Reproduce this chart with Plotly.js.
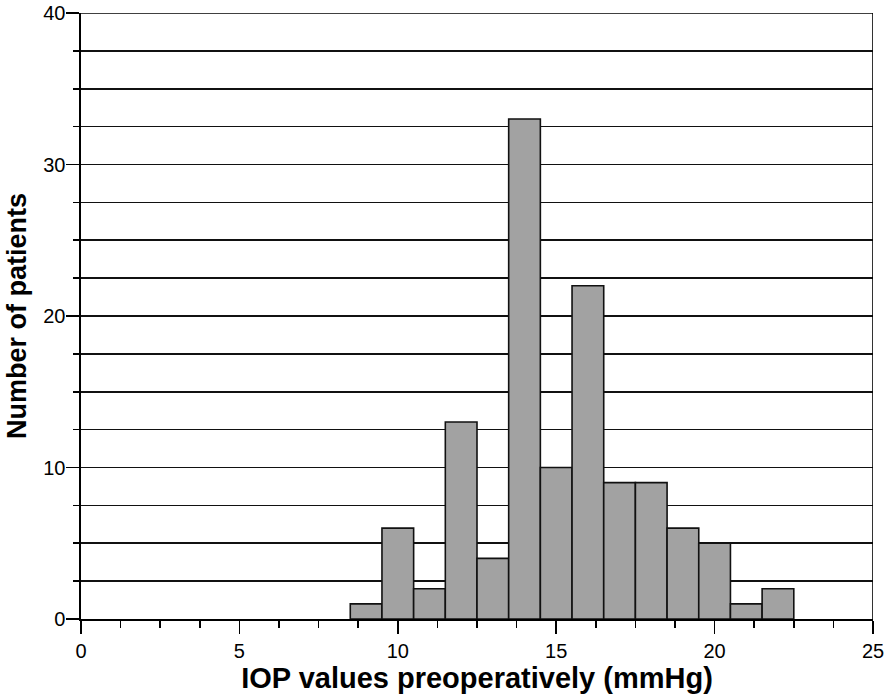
<!DOCTYPE html>
<html>
<head>
<meta charset="utf-8">
<script src="https://cdn.plot.ly/plotly-3.0.1.min.js"></script>
<style>html,body{margin:0;padding:0;background:#fff;}#chart{width:884px;height:697px;}</style>
</head>
<body>
<div id="chart"></div>
<script>
var iopValues = [9, 10, 11, 12, 13, 14, 15, 16, 17, 18, 19, 20, 21, 22];
var patientCounts = [1, 6, 2, 13, 4, 33, 10, 22, 9, 9, 6, 5, 1, 2];
var xTickValues = [0, 5, 10, 15, 20, 25];
var yTickValues = [0, 10, 20, 30, 40];

var trace = {
  type: 'bar',
  x: iopValues,
  y: patientCounts,
  width: 1,
  marker: {color: '#a2a2a2', line: {color: '#111', width: 1.6}},
  hoverinfo: 'x+y'
};

var layout = {
  width: 884, height: 697,
  margin: {l: 81, r: 11, t: 13, b: 78},
  paper_bgcolor: '#fff', plot_bgcolor: '#fff',
  showlegend: false,
  font: {family: 'Liberation Sans, Arial, sans-serif', color: '#000', size: 20},
  xaxis: {
    range: [0, 25], tickmode: 'array', tickvals: xTickValues,
    ticks: 'outside', ticklen: 13, tickwidth: 1.6, tickcolor: '#000',
    ticklabeloverflow: 'allow', automargin: false,
    showgrid: false, zeroline: false,
    showline: true, linecolor: '#000', linewidth: 1.6, mirror: false,
    minor: {dtick: 1.25, tick0: 0, ticks: 'outside', ticklen: 7, tickwidth: 1.6, tickcolor: '#000', showgrid: false},
    title: {text: 'IOP values preoperatively (mmHg)', font: {size: 29, family: 'Liberation Sans, Arial, sans-serif', weight: 'bold'}, standoff: 7}
  },
  yaxis: {
    range: [0, 40], tickmode: 'array', tickvals: yTickValues,
    ticks: 'outside', ticklen: 13, tickwidth: 1.6, tickcolor: '#000',
    ticklabelstandoff: -3, ticklabeloverflow: 'allow',
    showgrid: true, gridcolor: '#111', gridwidth: 1.7, zeroline: false,
    showline: true, linecolor: '#000', linewidth: 1.6,
    minor: {dtick: 2.5, tick0: 0, ticks: 'outside', ticklen: 6, tickwidth: 1.6, tickcolor: '#000', showgrid: true, gridcolor: '#111', gridwidth: 1.7},
    title: {text: 'Number of patients', font: {size: 27, family: 'Liberation Sans, Arial, sans-serif', weight: 'bold'}, standoff: 9}
  },
  shapes: [
    {type: 'line', xref: 'x', yref: 'paper', x0: 25, x1: 25, y0: 0, y1: 1, line: {color: '#000', width: 1.6}},
    {type: 'line', xref: 'paper', yref: 'y', x0: 0, x1: 1, y0: 40, y1: 40, line: {color: '#000', width: 1.7}}
  ],
  bargap: 0
};

Plotly.newPlot('chart', [trace], layout, {displayModeBar: false, staticPlot: true});
</script>
</body>
</html>
